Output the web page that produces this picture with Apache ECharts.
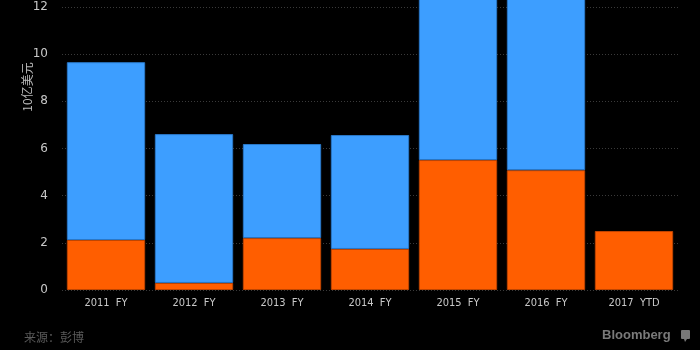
<!DOCTYPE html>
<html>
<head>
<meta charset="utf-8">
<script src="https://cdn.jsdelivr.net/npm/echarts@6/dist/echarts.min.js"></script>
<style>
html,body{margin:0;padding:0;background:#000;}
#chart{width:700px;height:350px;}
</style>
</head>
<body>
<div id="chart"></div>
<script>
const categories = ['2011  FY', '2012  FY', '2013  FY', '2014  FY', '2015  FY', '2016  FY', '2017  YTD'];
const orangeValues = [2.12, 0.30, 2.20, 1.74, 5.51, 5.08, 2.50];
const blueValues = [7.54, 6.31, 3.99, 4.83, 8.5, 9.0, '-'];
const yTicks = [0, 2, 4, 6, 8, 10, 12];
const unitLabel = '10亿美元';
const sourceLabel = '来源：彭博';
const brandLabel = 'Bloomberg';

const chart = echarts.init(document.getElementById('chart'), null, {renderer: 'canvas'});
chart.setOption({
  backgroundColor: '#000',
  animation: false,
  grid: {left: 62, right: 22, top: 7, bottom: 60},
  xAxis: {
    type: 'category',
    data: categories,
    axisLine: {show: false},
    axisTick: {show: false},
    axisLabel: {color: '#c8c8c8', fontSize: 11, fontFamily: 'DejaVu Sans Condensed, Liberation Sans, sans-serif', margin: 8}
  },
  yAxis: {
    type: 'value',
    min: yTicks[0],
    max: yTicks[yTicks.length - 1],
    interval: 2,
    axisLine: {show: false},
    axisTick: {show: false},
    axisLabel: {color: '#c8c8c8', fontSize: 12, fontFamily: 'DejaVu Sans, sans-serif', margin: 14},
    splitLine: {lineStyle: {color: '#3a3a3a', type: [1, 2], width: 1}}
  },
  series: [
    {
      type: 'bar', stack: 'total', data: orangeValues,
      barCategoryGap: '11%',
      itemStyle: {color: '#ff5e00', borderColor: '#c04500', borderWidth: 1}
    },
    {
      type: 'bar', stack: 'total', data: blueValues,
      barCategoryGap: '11%', clip: false,
      itemStyle: {color: '#3d9eff', borderColor: '#2a78c8', borderWidth: 1}
    }
  ],
  graphic: [
    {type: 'text', x: 27, y: 87, rotation: Math.PI / 2, style: {text: unitLabel, fill: '#bbbbbb', fontSize: 12, fontFamily: 'Noto Sans CJK SC, sans-serif', align: 'center', verticalAlign: 'middle'}},
    {type: 'text', left: 24, top: 331, style: {text: sourceLabel, fill: '#5a5a5a', fontSize: 12, fontFamily: 'Noto Sans CJK SC, sans-serif'}},
    {type: 'text', left: 602, top: 329, style: {text: brandLabel, fill: '#7a7a7a', fontSize: 13, fontWeight: 'bold', fontFamily: 'Liberation Sans, sans-serif'}},
    {type: 'rect', left: 681, top: 330, shape: {width: 9, height: 9, r: 1}, style: {fill: '#777'}},
    {type: 'polygon', shape: {points: [[684, 339], [687, 339], [685, 342]]}, style: {fill: '#777'}}
  ]
});
</script>
</body>
</html>
